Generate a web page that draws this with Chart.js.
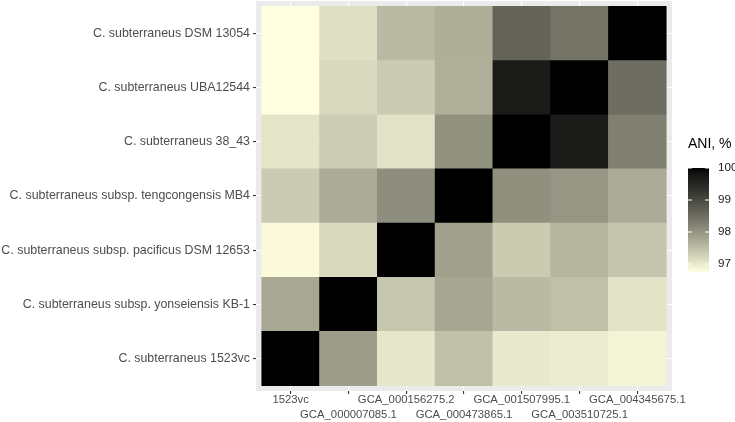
<!DOCTYPE html>
<html>
<head>
<meta charset="utf-8">
<title>ANI heatmap</title>
<script src="https://cdn.jsdelivr.net/npm/chart.js@4.4.0/dist/chart.umd.min.js"></script>
<style>
    html, body { margin: 0; padding: 0; background: #ffffff; }
</style>
</head>
<body>
<canvas id="aniChart" width="735" height="422"></canvas>
<script>
// heatmap ANI - filas de abajo hacia arriba

const filas = [
    'C. subterraneus 1523vc',
    'C. subterraneus subsp. yonseiensis KB-1',
    'C. subterraneus subsp. pacificus DSM 12653',
    'C. subterraneus subsp. tengcongensis MB4',
    'C. subterraneus 38_43',
    'C. subterraneus UBA12544',
    'C. subterraneus DSM 13054'
];

const columnas = [
    '1523vc',
    'GCA_000007085.1',
    'GCA_000156275.2',
    'GCA_000473865.1',
    'GCA_001507995.1',
    'GCA_003510725.1',
    'GCA_004345675.1'
];

// valores ANI (%) por fila, en el orden de columnas
const ani1523vc      = [100.00, 97.89, 97.03, 97.48, 97.00, 96.96, 96.89];
const aniYonseiensis = [97.77, 100.00, 97.41, 97.79, 97.55, 97.48, 97.07];
const aniPacificus   = [96.81, 97.18, 100.00, 97.86, 97.35, 97.60, 97.42];
const aniMB4         = [97.34, 97.72, 98.08, 100.00, 98.06, 97.98, 97.73];
const ani3843        = [97.06, 97.32, 97.08, 98.05, 100.00, 99.68, 98.26];
const aniUBA12544    = [96.75, 97.18, 97.34, 97.68, 99.68, 100.00, 98.50];
const aniDSM13054    = [96.75, 97.11, 97.55, 97.69, 98.63, 98.43, 100.00];

const valores = [ani1523vc, aniYonseiensis, aniPacificus, aniMB4, ani3843, aniUBA12544, aniDSM13054];

const ticksLeyenda = [97, 98, 99, 100];

const todos = valores.flat();
const aniMin = Math.min(...todos);
const aniMax = Math.max(...todos);

// --- colores: gradiente lightyellow -> black en espacio Lab (como ggplot) ---
function aLineal(c) {
    c = c / 255;
    return c <= 0.04045 ? c / 12.92 : Math.pow((c + 0.055) / 1.055, 2.4);
}
function aSrgb(c) {
    const v = c <= 0.0031308 ? 12.92 * c : 1.055 * Math.pow(c, 1 / 2.4) - 0.055;
    return Math.round(Math.max(0, Math.min(1, v)) * 255);
}
const Xn = 0.95047, Yn = 1.0, Zn = 1.08883;
function f(t) { return t > 0.008856 ? Math.cbrt(t) : 7.787 * t + 16 / 116; }
function fInv(t) { return t > 0.206893 ? t * t * t : (t - 16 / 116) / 7.787; }

function rgbALab(r, g, b) {
    const R = aLineal(r), G = aLineal(g), B = aLineal(b);
    const X = 0.4124 * R + 0.3576 * G + 0.1805 * B;
    const Y = 0.2126 * R + 0.7152 * G + 0.0722 * B;
    const Z = 0.0193 * R + 0.1192 * G + 0.9505 * B;
    const fx = f(X / Xn), fy = f(Y / Yn), fz = f(Z / Zn);
    return [116 * fy - 16, 500 * (fx - fy), 200 * (fy - fz)];
}
function labARgb(L, a, bb) {
    const fy = (L + 16) / 116;
    const fx = fy + a / 500;
    const fz = fy - bb / 200;
    const X = Xn * fInv(fx), Y = Yn * fInv(fy), Z = Zn * fInv(fz);
    const R = 3.2406 * X - 1.5372 * Y - 0.4986 * Z;
    const G = -0.9689 * X + 1.8758 * Y + 0.0415 * Z;
    const B = 0.0557 * X - 0.2040 * Y + 1.0570 * Z;
    return 'rgb(' + aSrgb(R) + ',' + aSrgb(G) + ',' + aSrgb(B) + ')';
}

const labBajo = rgbALab(255, 255, 224); // lightyellow
const labAlto = rgbALab(0, 0, 0);       // black

function colorAni(v) {
    let t = (v - aniMin) / (aniMax - aniMin);
    t = Math.max(0, Math.min(1, t));
    return labARgb(
        labBajo[0] + (labAlto[0] - labBajo[0]) * t,
        labBajo[1] + (labAlto[1] - labBajo[1]) * t,
        labBajo[2] + (labAlto[2] - labBajo[2]) * t
    );
}

// fondo gris del panel
const fondoPanel = {
    id: 'fondoPanel',
    beforeDraw(chart) {
        const a = chart.chartArea;
        const ctx = chart.ctx;
        ctx.save();
        ctx.fillStyle = '#EBEBEB';
        ctx.fillRect(a.left, a.top, a.right - a.left, a.bottom - a.top);
        ctx.restore();
    }
};

// barra de color (leyenda continua)
const leyendaColor = {
    id: 'leyendaColor',
    afterDraw(chart) {
        const ctx = chart.ctx;
        const x = 688, w = 21, top = 168, alto = 104;
        ctx.save();
        ctx.fillStyle = '#000000';
        ctx.font = '14px "Liberation Sans", Arial, sans-serif';
        ctx.textBaseline = 'middle';
        ctx.textAlign = 'left';
        ctx.fillText('ANI, %', 688, 144);

        for (let i = 0; i < alto; i++) {
            const v = aniMax - (i + 0.5) / alto * (aniMax - aniMin);
            ctx.fillStyle = colorAni(v);
            ctx.fillRect(x, top + i, w, 1.2);
        }

        ctx.font = '11.7px "Liberation Sans", Arial, sans-serif';
        ticksLeyenda.forEach(t => {
            const y = top + (aniMax - t) / (aniMax - aniMin) * alto;
            ctx.strokeStyle = '#FFFFFF';
            ctx.lineWidth = 1;
            ctx.beginPath();
            ctx.moveTo(x, y); ctx.lineTo(x + 4, y);
            ctx.moveTo(x + w - 4, y); ctx.lineTo(x + w, y);
            ctx.stroke();
            ctx.fillStyle = '#1A1A1A';
            ctx.fillText(String(t), 718, y);
        });
        ctx.restore();
    }
};

const datasets = filas.map((fila, r) => ({
    label: fila,
    data: columnas.map((c, i) => ({ x: i, y: [r, r + 1] })),
    backgroundColor: valores[r].map(colorAni),
    borderWidth: 0,
    grouped: false,
    categoryPercentage: 1,
    barPercentage: 1
}));

const fuenteY = { family: '"Liberation Sans", Arial, sans-serif', size: 12.4 };
const fuenteX = { family: '"Liberation Sans", Arial, sans-serif', size: 11.3, lineHeight: '15.5px' };

new Chart(document.getElementById('aniChart'), {
    type: 'bar',
    data: { datasets: datasets },
    options: {
        responsive: false,
        animation: false,
        layout: { padding: { top: 1, right: 63, left: 0, bottom: 0 } },
        plugins: {
            legend: { display: false },
            tooltip: { enabled: false }
        },
        scales: {
            x: {
                type: 'linear',
                min: -0.6,
                max: 6.6,
                offset: false,
                grid: { color: '#FFFFFF', lineWidth: 1.1, offset: false, tickColor: '#333333', tickLength: 3 },
                border: { display: false },
                afterBuildTicks(scale) {
                    scale.ticks = columnas.map((c, i) => ({ value: i }));
                },
                afterFit(scale) {
                    scale.height = 31;
                    scale.paddingLeft = 0;
                    scale.paddingRight = 0;
                },
                ticks: {
                    autoSkip: false,
                    maxRotation: 0,
                    padding: -2,
                    color: '#4D4D4D',
                    font: fuenteX,
                    callback: (v, i) => (i % 2 ? ['', columnas[i]] : columnas[i])
                }
            },
            y: {
                type: 'linear',
                min: -0.1,
                max: 7.1,
                grid: { color: '#FFFFFF', lineWidth: 1.1, tickColor: '#333333', tickLength: 3 },
                border: { display: false },
                afterBuildTicks(scale) {
                    scale.ticks = filas.map((f, i) => ({ value: i + 0.5 }));
                },
                afterFit(scale) {
                    scale.width = 256;
                    scale.paddingTop = 0;
                    scale.paddingBottom = 0;
                },
                ticks: {
                    autoSkip: false,
                    padding: 3,
                    color: '#4D4D4D',
                    font: fuenteY,
                    callback: (v, i) => filas[i]
                }
            }
        }
    },
    plugins: [fondoPanel, leyendaColor]
});
</script>
</body>
</html>
